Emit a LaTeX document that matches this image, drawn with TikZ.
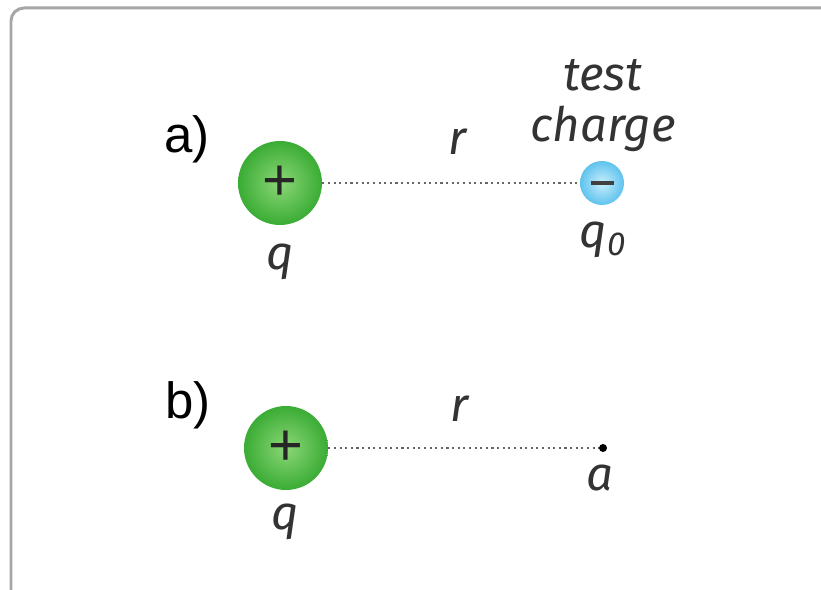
\documentclass[tikz,border=0pt]{standalone}
\usepackage{fontspec}
\setmainfont{Liberation Sans}
\newfontfamily\labelfont{Fira Sans}
\begin{document}
\begin{tikzpicture}[x=0.02cm, y=-0.02cm,
  every node/.style={align=center, font=\fontsize{29}{33}\selectfont},
  lbl/.style={font=\fontsize{27}{29}\selectfont\labelfont\itshape, text=black!80},
  charge/.style={circle, inner sep=0pt, minimum size=1.68cm, inner color=chargelight, outer color=chargedark, font=\fontsize{34}{34}\selectfont, text=black!85},
  testq/.style={circle, inner sep=0pt, minimum size=0.88cm, inner color=testlight, outer color=testblue, text=black!75},
  dotline/.style={dotted, line width=1.2pt, black!60},
  spot/.style={circle, fill=black, inner sep=0pt, minimum size=0.16cm}]
  % Charge with test charge, and the bare point
  \definecolor{chargelight}{RGB}{140,215,120}
  \definecolor{chargedark}{RGB}{58,172,52}
  \definecolor{testlight}{RGB}{200,238,252}
  \definecolor{testblue}{RGB}{95,195,238}
  \useasboundingbox (0,0) rectangle (821,590);
  \draw[black!35, line width=0.06cm, rounded corners=0.26cm] (11,8) rectangle (850,620);

  \node (la) at (187,139) {a)};
  \node[charge] (qa) at (280,183) {+};
  \node[testq] (qt) at (602,183) {\rule{0.46cm}{0.09cm}};
  \draw[dotline] (qa) -- (qt);
  \node[lbl] (ra) at (458,142) {r};
  \node[lbl] (tc) at (603,106) {test\\charge};
  \node[lbl] (nq0) at (603,240) {q\textsubscript{0}};
  \node[lbl] (nqa) at (280,262) {q};

  \node (lb) at (188,405) {b)};
  \node[charge] (qb) at (286,448) {+};
  \node[spot] (pa) at (603,448) {};
  \draw[dotline] (qb) -- (pa);
  \node[lbl] (rb) at (460,409) {r};
  \node[lbl] (na) at (600,478) {a};
  \node[lbl] (nqb) at (285,522) {q};
\end{tikzpicture}
\end{document}
